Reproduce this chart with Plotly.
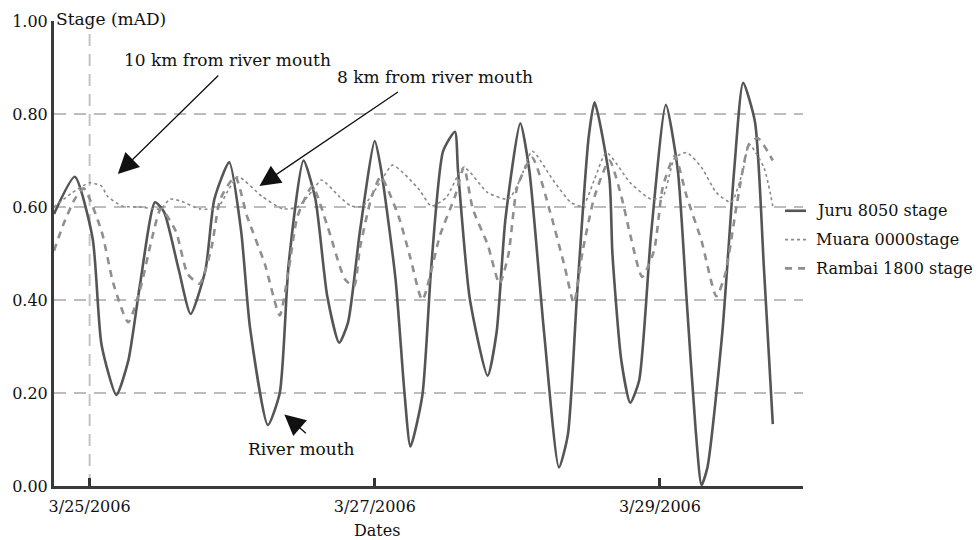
import plotly.graph_objects as go

# ---------------- data ----------------
juru_time = [
    "2006-03-24 18:00", "2006-03-24 21:30", "2006-03-25 00:30", "2006-03-25 02:00", "2006-03-25 04:30",
    "2006-03-25 06:30", "2006-03-25 08:30", "2006-03-25 11:00", "2006-03-25 12:30", "2006-03-25 15:00",
    "2006-03-25 17:00", "2006-03-25 19:30", "2006-03-25 21:00", "2006-03-25 23:30", "2006-03-26 01:30",
    "2006-03-26 03:00", "2006-03-26 06:00", "2006-03-26 08:00", "2006-03-26 09:30", "2006-03-26 12:00",
    "2006-03-26 14:00", "2006-03-26 16:00", "2006-03-26 18:00", "2006-03-26 19:30", "2006-03-26 21:30",
    "2006-03-27 00:00", "2006-03-27 01:00", "2006-03-27 03:30", "2006-03-27 05:00", "2006-03-27 06:00",
    "2006-03-27 08:00", "2006-03-27 09:30", "2006-03-27 11:30", "2006-03-27 13:30", "2006-03-27 14:00",
    "2006-03-27 16:00", "2006-03-27 19:00", "2006-03-27 20:30", "2006-03-27 22:00", "2006-03-28 00:30",
    "2006-03-28 02:00", "2006-03-28 04:30", "2006-03-28 07:00", "2006-03-28 08:30", "2006-03-28 10:00",
    "2006-03-28 12:00", "2006-03-28 13:00", "2006-03-28 15:30", "2006-03-28 16:00", "2006-03-28 17:30",
    "2006-03-28 19:00", "2006-03-28 20:30", "2006-03-28 22:30", "2006-03-29 01:00", "2006-03-29 03:00",
    "2006-03-29 04:30", "2006-03-29 06:00", "2006-03-29 07:00", "2006-03-29 08:00", "2006-03-29 10:30",
    "2006-03-29 12:30", "2006-03-29 14:00", "2006-03-29 16:00", "2006-03-29 17:30", "2006-03-29 19:00",
]
juru_stage = [
    0.585, 0.665, 0.533, 0.304, 0.196,
    0.269, 0.435, 0.610, 0.590, 0.465,
    0.370, 0.465, 0.617, 0.696, 0.548,
    0.340, 0.131, 0.200, 0.477, 0.700,
    0.617, 0.408, 0.308, 0.352, 0.548,
    0.742, 0.685, 0.444, 0.200, 0.085,
    0.194, 0.470, 0.720, 0.762, 0.680,
    0.402, 0.237, 0.330, 0.575, 0.780,
    0.680, 0.330, 0.040, 0.110, 0.402,
    0.750, 0.825, 0.660, 0.500, 0.270,
    0.179, 0.227, 0.540, 0.820, 0.680,
    0.400, 0.123, 0.002, 0.040, 0.330,
    0.680, 0.867, 0.783, 0.470, 0.133,
]

muara_time = [
    "2006-03-24 18:00", "2006-03-24 21:00", "2006-03-25 00:00", "2006-03-25 02:00", "2006-03-25 03:00",
    "2006-03-25 05:30", "2006-03-25 08:30", "2006-03-25 12:00", "2006-03-25 13:30", "2006-03-25 15:30",
    "2006-03-25 18:30", "2006-03-25 21:30", "2006-03-25 23:30", "2006-03-26 01:00", "2006-03-26 05:00",
    "2006-03-26 08:30", "2006-03-26 11:00", "2006-03-26 13:30", "2006-03-26 15:00", "2006-03-26 18:00",
    "2006-03-26 20:00", "2006-03-26 22:00", "2006-03-27 01:00", "2006-03-27 03:00", "2006-03-27 07:30",
    "2006-03-27 09:30", "2006-03-27 12:00", "2006-03-27 15:00", "2006-03-27 19:00", "2006-03-27 22:30",
    "2006-03-28 00:30", "2006-03-28 02:30", "2006-03-28 06:00", "2006-03-28 09:00", "2006-03-28 11:00",
    "2006-03-28 13:00", "2006-03-28 15:00", "2006-03-28 19:00", "2006-03-28 22:30", "2006-03-29 00:30",
    "2006-03-29 02:30", "2006-03-29 04:30", "2006-03-29 07:00", "2006-03-29 09:30", "2006-03-29 12:00",
    "2006-03-29 14:00", "2006-03-29 15:00", "2006-03-29 17:30", "2006-03-29 19:00",
]
muara_stage = [
    0.600, 0.630, 0.652, 0.645, 0.623,
    0.602, 0.600, 0.596, 0.617, 0.612,
    0.596, 0.598, 0.640, 0.665, 0.623,
    0.596, 0.600, 0.635, 0.658, 0.623,
    0.602, 0.602, 0.655, 0.690, 0.637,
    0.602, 0.620, 0.685, 0.631, 0.617,
    0.660, 0.720, 0.658, 0.610, 0.602,
    0.660, 0.717, 0.652, 0.617, 0.623,
    0.706, 0.717, 0.685, 0.631, 0.610,
    0.680, 0.735, 0.685, 0.602,
]

rambai_time = [
    "2006-03-24 18:00", "2006-03-24 19:30", "2006-03-24 21:30", "2006-03-24 23:00", "2006-03-25 02:00",
    "2006-03-25 04:00", "2006-03-25 06:30", "2006-03-25 08:30", "2006-03-25 10:30", "2006-03-25 12:00",
    "2006-03-25 14:30", "2006-03-25 16:30", "2006-03-25 18:30", "2006-03-25 20:30", "2006-03-25 22:00",
    "2006-03-26 00:30", "2006-03-26 02:30", "2006-03-26 05:30", "2006-03-26 08:00", "2006-03-26 09:30",
    "2006-03-26 11:00", "2006-03-26 13:30", "2006-03-26 16:00", "2006-03-26 19:00", "2006-03-26 20:30",
    "2006-03-26 21:30", "2006-03-26 23:30", "2006-03-27 01:00", "2006-03-27 04:00", "2006-03-27 06:00",
    "2006-03-27 08:00", "2006-03-27 11:00", "2006-03-27 13:30", "2006-03-27 15:00", "2006-03-27 16:30",
    "2006-03-27 19:00", "2006-03-27 21:00", "2006-03-27 22:30", "2006-03-28 00:00", "2006-03-28 02:30",
    "2006-03-28 05:30", "2006-03-28 08:00", "2006-03-28 09:30", "2006-03-28 11:00", "2006-03-28 13:00",
    "2006-03-28 15:30", "2006-03-28 17:30", "2006-03-28 19:00", "2006-03-28 21:00", "2006-03-28 23:00",
    "2006-03-29 00:30", "2006-03-29 02:30", "2006-03-29 04:30", "2006-03-29 07:00", "2006-03-29 09:30",
    "2006-03-29 11:00", "2006-03-29 13:00", "2006-03-29 15:00", "2006-03-29 16:30", "2006-03-29 19:00",
]
rambai_stage = [
    0.506, 0.560, 0.617, 0.640, 0.548,
    0.435, 0.352, 0.423, 0.533, 0.596,
    0.548, 0.456, 0.435, 0.512, 0.617,
    0.665, 0.580, 0.477, 0.367, 0.465,
    0.580, 0.644, 0.560, 0.444, 0.430,
    0.512, 0.623, 0.665, 0.580, 0.490,
    0.400, 0.540, 0.623, 0.685, 0.596,
    0.519, 0.435, 0.498, 0.644, 0.706,
    0.590, 0.470, 0.394, 0.506, 0.623,
    0.700, 0.623, 0.540, 0.450, 0.506,
    0.644, 0.710, 0.623, 0.527, 0.408,
    0.456, 0.610, 0.735, 0.748, 0.700,
]

series_names = ["Juru 8050 stage", "Muara 0000stage", "Rambai 1800 stage"]
x_tick_dates = ["2006-03-25", "2006-03-27", "2006-03-29"]
x_tick_labels = ["3/25/2006", "3/27/2006", "3/29/2006"]
y_tick_vals = [0.0, 0.2, 0.4, 0.6, 0.8, 1.0]
y_tick_labels = ["0.00", "0.20", "0.40", "0.60", "0.80", "1.00"]
x_range = ["2006-03-24 18:00", "2006-03-30 00:05"]

FONT = "DejaVu Serif"

styles = [
    dict(color="#555555", width=2.6),
    dict(color="#8a8a8a", width=1.6, dash="dot"),
    dict(color="#8f8f8f", width=2.6, dash="7px,6px"),
]

# ---------------- figure ----------------
fig = go.Figure()
for name, xs, ys, st in zip(series_names,
                            [juru_time, muara_time, rambai_time],
                            [juru_stage, muara_stage, rambai_stage],
                            styles):
    fig.add_trace(go.Scatter(
        x=xs, y=ys, mode="lines", name=name,
        line=dict(shape="spline", smoothing=0.6, **st),
        showlegend=False,
    ))

# dashed horizontal grid lines at inner tick values
for v in y_tick_vals[1:-1]:
    fig.add_hline(y=v, line=dict(color="#bdbdbd", width=2, dash="12px,8px"), layer="below")
# dashed vertical grid line at first date tick
fig.add_vline(x=x_tick_dates[0], line=dict(color="#c4c4c4", width=2, dash="12px,8px"), layer="below")

PL, PT, PW, PH = 52, 18, 751, 468  # plot-area geometry in pixels


def px(xp):
    return (xp - PL) / PW


def py(yp):
    return (PT + PH - yp) / PH


ann_font = dict(family=FONT, size=17, color="#111111")

annotations = [
    dict(text="Stage (mAD)", x=0.0, y=py(16), xref="paper", yref="paper",
         xanchor="left", yanchor="middle", showarrow=False, font=dict(family=FONT, size=17, color="#111")),
    dict(text="Dates", x=px(376), y=py(531), xref="paper", yref="paper",
         xanchor="center", yanchor="middle", showarrow=False, font=dict(family=FONT, size=16, color="#111")),
    dict(text="10 km from river mouth", x=px(226), y=py(57), xref="paper", yref="paper",
         xanchor="center", yanchor="middle", showarrow=False, font=ann_font),
    dict(text="8 km from river mouth", x=px(434), y=py(74), xref="paper", yref="paper",
         xanchor="center", yanchor="middle", showarrow=False, font=ann_font),
    dict(text="River mouth", x=px(300), y=py(449), xref="paper", yref="paper",
         xanchor="center", yanchor="middle", showarrow=False, font=ann_font),
]
# arrows: head position + tail offset (pixels)
arrows = [((116, 172), (102, -100)), ((258, 184), (140, -95)), ((283, 414), (23, 20))]
for (hx, hy), (ax, ay) in arrows:
    annotations.append(dict(
        text="", x=px(hx), y=py(hy), xref="paper", yref="paper",
        ax=ax, ay=ay, axref="pixel", ayref="pixel", showarrow=True,
        arrowhead=2, arrowsize=3.2, arrowwidth=1.3, arrowcolor="#111111", standoff=0,
    ))

# legend drawn at the right edge (sample line + label text)
legend_rows = [209, 238, 267]
for name, st, ry in zip(series_names, styles, legend_rows):
    fig.add_shape(type="line", xref="paper", yref="paper",
                  x0=px(785), x1=px(806), y0=py(ry), y1=py(ry),
                  line=dict(color=st["color"], width=st["width"], dash=st.get("dash", "solid")))
    annotations.append(dict(text=name, x=px(814), y=py(ry), xref="paper", yref="paper",
                            xanchor="left", yanchor="middle", showarrow=False,
                            font=dict(family=FONT, size=16, color="#111")))

fig.update_layout(
    width=980, height=540,
    margin=dict(l=PL, r=980 - PL - PW, t=PT, b=540 - PT - PH),
    paper_bgcolor="white", plot_bgcolor="white",
    font=dict(family=FONT, size=16, color="#111111"),
    showlegend=False,
    annotations=annotations,
)
fig.update_xaxes(
    type="date", range=x_range,
    tickvals=x_tick_dates, ticktext=x_tick_labels,
    ticks="inside", ticklen=8, tickwidth=3, tickcolor="#333333",
    showgrid=False, zeroline=False,
    showline=True, linewidth=3, linecolor="#3a3a3a",
    tickfont=dict(family=FONT, size=16, color="#111"),
    ticklabelstandoff=4,
)
fig.update_yaxes(
    range=[0, 1.0], tickvals=y_tick_vals, ticktext=y_tick_labels,
    ticks="", showgrid=False, zeroline=False,
    showline=True, linewidth=3, linecolor="#3a3a3a",
    tickfont=dict(family=FONT, size=16, color="#111"),
)

fig.write_html("out.html")
